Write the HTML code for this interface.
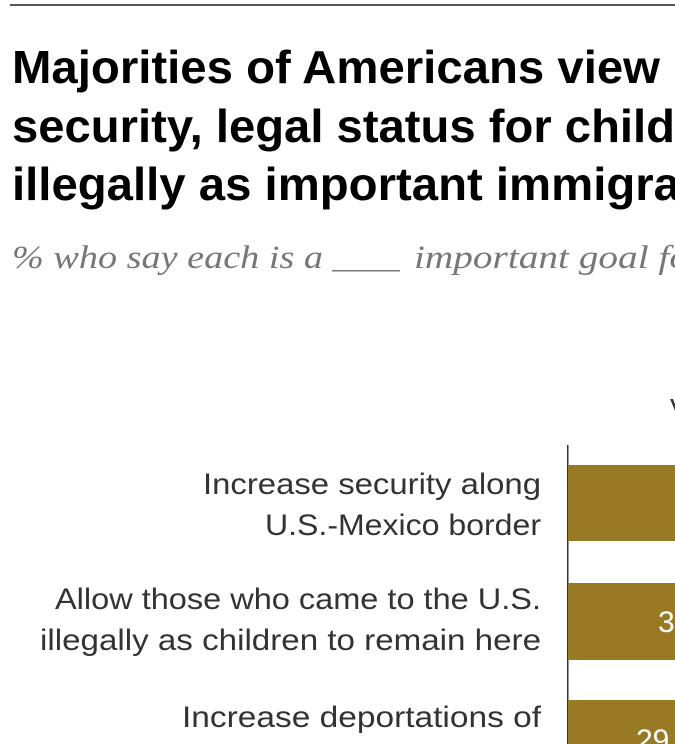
<!DOCTYPE html>
<html><head><meta charset="utf-8"><style>
html,body{margin:0;padding:0;background:#fff;width:675px;height:744px;overflow:hidden}
</style></head><body>
<svg width="675" height="744" viewBox="0 0 675 744" xmlns="http://www.w3.org/2000/svg">
<rect x="10" y="4" width="665" height="2" fill="#555"/>
<g font-family="Liberation Sans, Arial, sans-serif" font-weight="bold" font-size="46" fill="#000">
<text x="12" y="83" textLength="648" lengthAdjust="spacingAndGlyphs">Majorities of Americans view</text>
<text x="12" y="142" textLength="663" lengthAdjust="spacingAndGlyphs">security, legal status for child</text>
<text x="12" y="200" textLength="668" lengthAdjust="spacingAndGlyphs">illegally as important immigra</text>
</g>
<g font-family="Liberation Serif, serif" font-style="italic" font-size="33" fill="#777">
<text x="12" y="268" textLength="311" lengthAdjust="spacingAndGlyphs">% who say each is a</text>
<text x="414" y="268" textLength="275" lengthAdjust="spacingAndGlyphs">important goal fo</text>
</g>
<rect x="332" y="270" width="68" height="1.5" fill="#777"/>
<text x="670" y="418" font-family="Liberation Sans, sans-serif" font-size="28" fill="#333">V</text>
<g font-family="Liberation Sans, Arial, sans-serif" font-size="30" fill="#333">
<text x="203" y="494" textLength="338" lengthAdjust="spacingAndGlyphs">Increase security along</text>
<text x="265" y="535" textLength="276" lengthAdjust="spacingAndGlyphs">U.S.-Mexico border</text>
<text x="55" y="609" textLength="486" lengthAdjust="spacingAndGlyphs">Allow those who came to the U.S.</text>
<text x="40" y="650" textLength="501" lengthAdjust="spacingAndGlyphs">illegally as children to remain here</text>
<text x="182" y="727" textLength="359" lengthAdjust="spacingAndGlyphs">Increase deportations of</text>
</g>
<rect x="567" y="445" width="1.5" height="299" fill="#333"/>
<rect x="568" y="465" width="107" height="76" fill="#987a24"/>
<rect x="568" y="583" width="107" height="77" fill="#987a24"/>
<rect x="568" y="700" width="107" height="44" fill="#987a24"/>
<g font-family="Liberation Sans, Arial, sans-serif" font-size="30" fill="#fff">
<text x="658" y="632">3</text>
<text x="636" y="750">29</text>
</g>
</svg>
</body></html>
